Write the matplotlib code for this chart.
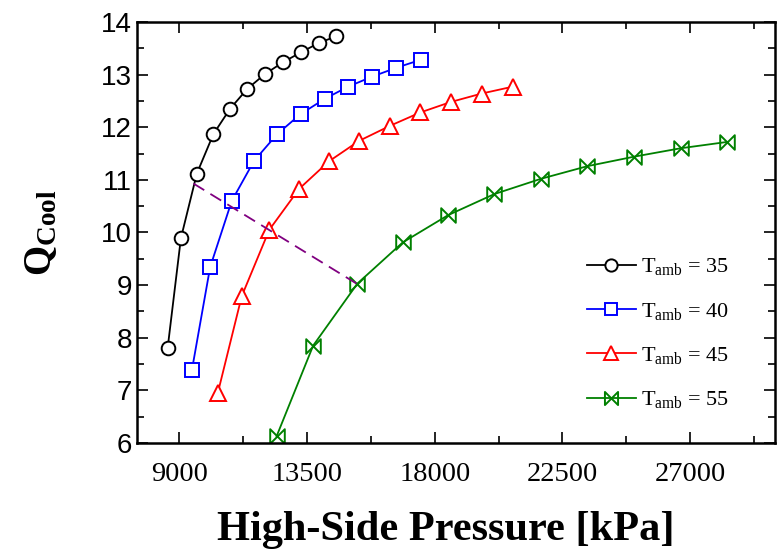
import numpy as np
import matplotlib
matplotlib.use('Agg')
import matplotlib.pyplot as plt
from matplotlib.path import Path
from matplotlib.ticker import MultipleLocator

plt.rcParams['mathtext.fontset'] = 'custom'
plt.rcParams['mathtext.rm'] = 'Liberation Serif'
plt.rcParams['mathtext.it'] = 'Liberation Serif:italic'
plt.rcParams['mathtext.bf'] = 'Liberation Serif:bold'

# data
p35 = [8581, 9049, 9612, 10196, 10783, 11392, 12014, 12637, 13270, 13914, 14536]
q35 = [7.80, 9.89, 11.12, 11.87, 12.35, 12.73, 13.01, 13.23, 13.42, 13.60, 13.73]

p40 = [9436, 10080, 10843, 11628, 12447, 13270, 14125, 14944, 15789, 16647, 17502]
q40 = [7.38, 9.34, 10.60, 11.36, 11.87, 12.25, 12.54, 12.77, 12.96, 13.13, 13.28]

p45 = [10351, 11195, 12166, 13221, 14266, 15331, 16436, 17491, 18570, 19658, 20748]
q45 = [6.95, 8.79, 10.05, 10.83, 11.35, 11.74, 12.03, 12.28, 12.48, 12.64, 12.77]

p55 = [12426, 13713, 15275, 16870, 18475, 20104, 21747, 23386, 25029, 26671, 28311]
q55 = [6.13, 7.85, 9.03, 9.81, 10.33, 10.73, 11.02, 11.26, 11.44, 11.60, 11.72]

opt_p = [9492, 15240]
opt_q = [10.93, 9.03]

labels = ['35', '40', '45', '55']

# bowtie marker (vertical edges, crossing in the middle)
bowtie = Path([(-1, -1), (-1, 1), (1, -1), (1, 1), (-1, -1)],
              [Path.MOVETO, Path.LINETO, Path.LINETO, Path.LINETO, Path.CLOSEPOLY])

fig = plt.figure(figsize=(7.84, 5.49), dpi=100)
ax = fig.add_axes([0.1747, 0.1931, 0.8138, 0.7669])

common = dict(lw=1.3, mew=1.4, mfc='white')
ax.plot(p35, q35, '-', marker='o', ms=9.8, color='black', label='T$_{\\mathrm{amb}}$ = ' + labels[0], **common)
ax.plot(p40, q40, '-', marker='s', ms=9.5, color='blue', label='T$_{\\mathrm{amb}}$ = ' + labels[1], **common)
ax.plot(p45, q45, '-', marker='^', ms=11, color='red', label='T$_{\\mathrm{amb}}$ = ' + labels[2], **common)
ax.plot(p55, q55, '-', marker=bowtie, ms=10.5, color='green', label='T$_{\\mathrm{amb}}$ = ' + labels[3],
        lw=1.3, mew=1.4, mfc='none')
ax.plot(opt_p, opt_q, color='purple', lw=1.3, dashes=(7, 4))

ax.set_xlim(7500, 30000)
ax.set_ylim(6, 14)
ax.xaxis.set_major_locator(MultipleLocator(4500))
ax.xaxis.set_minor_locator(MultipleLocator(2250))
ax.yaxis.set_major_locator(MultipleLocator(1))
ax.yaxis.set_minor_locator(MultipleLocator(0.5))
ax.set_xticks([9000, 13500, 18000, 22500, 27000])

ax.tick_params(which='both', direction='in', top=True, right=True, width=1.2)
ax.tick_params(which='major', length=8)
ax.tick_params(which='minor', length=5)
ax.tick_params(axis='x', pad=14)
for lab in ax.get_xticklabels():
    lab.set_fontfamily('Liberation Serif')
    lab.set_fontsize(20.5)
for lab in ax.get_yticklabels():
    lab.set_fontfamily('Liberation Sans')
    lab.set_fontsize(20)

for s in ax.spines.values():
    s.set_linewidth(1.8)

ax.set_xlabel('High-Side Pressure [kPa]', fontfamily='Liberation Serif',
              fontweight='bold', fontsize=30.5, labelpad=17)
ax.xaxis.label.set_x(0.484)
ax.set_ylabel(r'$\mathbf{Q_{Cool}}$', fontsize=28, labelpad=30)

ax.legend(loc='lower right', bbox_to_anchor=(0.96, 0.03), frameon=False,
          prop={'family': 'Liberation Serif', 'size': 16}, markerscale=0.9,
          handlelength=2.2, labelspacing=1.05, handletextpad=0.25)

fig.savefig('out.png', dpi=100)
